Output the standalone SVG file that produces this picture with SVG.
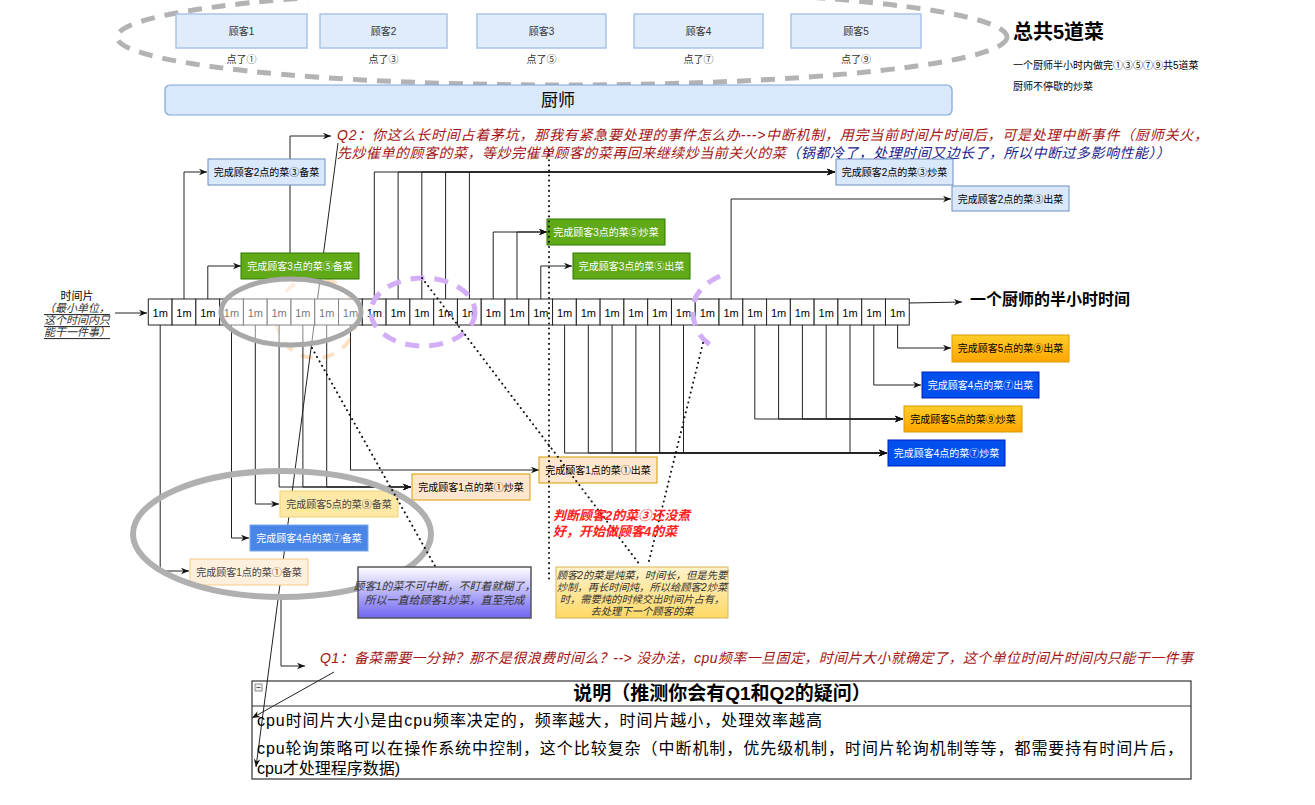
<svg xmlns="http://www.w3.org/2000/svg" width="1315" height="805" viewBox="0 0 1315 805">
<defs>
<style>
text{font-family:"Liberation Sans","Noto Sans CJK SC",sans-serif;}
.c{text-anchor:middle;dominant-baseline:central;}
.cust{fill:#e1ecfb;stroke:#a9c4eb;stroke-width:1.5;}
.ct{font-size:10px;fill:#333;}
.cell{fill:#fff;stroke:#222;stroke-width:1;}
.cellt{font-size:11px;fill:#000;}
.ln{fill:none;stroke:#222;stroke-width:1;}
.lna{fill:none;stroke:#222;stroke-width:1;marker-end:url(#arr);}
.dot{fill:none;stroke:#111;stroke-width:2;stroke-dasharray:0.1 5;stroke-linecap:round;}
.bt{font-size:10px;}
.blue{fill:#dae8fc;stroke:#6c8ebf;}
.green{fill:#60a917;stroke:#2d7600;}
.org{fill:#ffe6cc;stroke:#d79b00;}
.yel{fill:url(#gY);stroke:#d79b00;}
.dblue{fill:#0050ef;stroke:#001dbc;}
.q{font-style:italic;fill:#a31515;font-size:14px;}
</style>
<marker id="arr" viewBox="0 0 10 10" refX="10" refY="5" markerWidth="8" markerHeight="8" orient="auto" markerUnits="userSpaceOnUse"><path d="M0,1 L10,5 L0,9 L3,5 z" fill="#111"/></marker>
<linearGradient id="gY" x1="0" y1="0" x2="0" y2="1"><stop offset="0" stop-color="#ffcd28"/><stop offset="1" stop-color="#ffa500"/></linearGradient>
<linearGradient id="gP" x1="0" y1="0" x2="0" y2="1"><stop offset="0" stop-color="#ffffff"/><stop offset="1" stop-color="#6f64f2"/></linearGradient>
<linearGradient id="gN" x1="0" y1="0" x2="0" y2="1"><stop offset="0" stop-color="#fff2cc"/><stop offset="1" stop-color="#ffd966"/></linearGradient>
</defs>
<rect width="1315" height="805" fill="#fff"/>

<!-- top dashed ellipse -->
<ellipse cx="562" cy="37" rx="445" ry="48" fill="none" stroke="#b3b3b3" stroke-width="5" stroke-dasharray="14 10"/>

<g id="customer1"><rect class="cust" x="176" y="14" width="131" height="34"/><text class="c ct" x="241.5" y="31">顾客1</text><text class="c ct" x="241.5" y="59">点了①</text></g>
<g id="customer2"><rect class="cust" x="320" y="14" width="127" height="34"/><text class="c ct" x="383.5" y="31">顾客2</text><text class="c ct" x="383.5" y="59">点了③</text></g>
<g id="customer3"><rect class="cust" x="477" y="14" width="129" height="34"/><text class="c ct" x="541.5" y="31">顾客3</text><text class="c ct" x="541.5" y="59">点了⑤</text></g>
<g id="customer4"><rect class="cust" x="634" y="14" width="129" height="34"/><text class="c ct" x="698.5" y="31">顾客4</text><text class="c ct" x="698.5" y="59">点了⑦</text></g>
<g id="customer5"><rect class="cust" x="791" y="14" width="130" height="34"/><text class="c ct" x="856" y="31">顾客5</text><text class="c ct" x="856" y="59">点了⑨</text></g>

<g id="summary">
<text x="1013" y="39" font-size="20" font-weight="bold" fill="#000">总共5道菜</text>
<text x="1013" y="69" font-size="10" fill="#000">一个厨师半小时内做完①③⑤⑦⑨共5道菜</text>
<text x="1013" y="90" font-size="10" fill="#000">厨师不停歇的炒菜</text>
</g>

<g id="chef"><rect x="165" y="85" width="787" height="30" rx="5" fill="#dae8fc" stroke="#7ea6d8" stroke-width="1.2"/><text class="c" x="558" y="100" font-size="17" fill="#000">厨师</text></g>

<g id="q2">
<text class="q" x="337" y="140" textLength="871" lengthAdjust="spacing">Q2：你这么长时间占着茅坑，那我有紧急要处理的事件怎么办---&gt;中断机制，用完当前时间片时间后，可是处理中断事件（厨师关火，</text>
<text class="q" x="337" y="158" textLength="833" lengthAdjust="spacing">先炒催单的顾客的菜，等炒完催单顾客的菜再回来继续炒当前关火的菜<tspan fill="#1c1c8c">（锅都冷了，处理时间又边长了，所以中断过多影响性能））</tspan></text>
</g>

<g id="timeslice-label">
<text class="c" x="77" y="296" font-size="11" fill="#000">时间片</text>
<g font-size="11" font-style="italic" fill="#333" text-decoration="underline">
<text class="c" x="77" y="308">（最小单位，</text>
<text class="c" x="77" y="320">这个时间内只</text>
<text class="c" x="77" y="332">能干一件事）</text>
</g>
</g>

<!-- faint orange dashed circle -->
<ellipse cx="316" cy="318" rx="40" ry="40" fill="none" stroke="#ffe0c2" stroke-width="4" stroke-dasharray="12 10"/>

<g id="connectors">
<path class="lna" d="M184,299 V172 H207"/>
<path class="lna" d="M207.8,299 V266 H241"/>
<path class="lna" d="M374.3,299 V172 H835"/>
<path class="lna" d="M398.1,299 V172 H835"/>
<path class="lna" d="M421.8,299 V172 H835"/>
<path class="lna" d="M445.6,299 V172 H835"/>
<path class="lna" d="M469.4,299 V172 H835"/>
<path class="lna" d="M493.2,299 V232 H547"/>
<path class="lna" d="M517,299 V232 H547"/>
<path class="lna" d="M540.8,299 V266 H572"/>
<path class="lna" d="M731.1,299 V199 H951"/>
<path class="lna" d="M160.2,325 V571 H189"/>
<path class="lna" d="M231.5,325 V538 H249"/>
<path class="lna" d="M255.3,325 V504 H279"/>
<path class="lna" d="M279.1,325 V487 H411"/>
<path class="lna" d="M302.9,325 V487 H411"/>
<path class="lna" d="M326.7,325 V487 H411"/>
<path class="lna" d="M350.5,325 V470 H539"/>
<path class="lna" d="M564.6,325 V453 H887"/>
<path class="lna" d="M588.3,325 V453 H887"/>
<path class="lna" d="M612.1,325 V453 H887"/>
<path class="lna" d="M635.9,325 V453 H887"/>
<path class="lna" d="M659.7,325 V453 H887"/>
<path class="lna" d="M683.5,325 V453 H887"/>
<path class="lna" d="M850,325 V453 H887"/>
<path class="lna" d="M754.8,325 V419 H903"/>
<path class="lna" d="M778.6,325 V419 H903"/>
<path class="lna" d="M802.4,325 V419 H903"/>
<path class="lna" d="M826.2,325 V419 H903"/>
<path class="lna" d="M873.8,325 V385 H921"/>
<path class="lna" d="M897.6,325 V348 H951"/>
<path class="lna" d="M115,313 H147"/>
<path class="lna" d="M909,303 L962,302"/>
<path class="lna" d="M290,278 V136 H331"/>
<path class="lna" d="M281,598 V666 H305"/>
<path class="lna" d="M338,143 L256,767"/>
<path class="lna" d="M334,672 L252,718"/>
</g>

<g id="timeline">
<rect class="cell" x="148.3" y="299" width="23.78" height="26"/><rect class="cell" x="172.08" y="299" width="23.78" height="26"/><rect class="cell" x="195.86" y="299" width="23.78" height="26"/><rect class="cell" x="219.64" y="299" width="23.78" height="26"/><rect class="cell" x="243.42" y="299" width="23.78" height="26"/><rect class="cell" x="267.2" y="299" width="23.78" height="26"/><rect class="cell" x="290.98" y="299" width="23.78" height="26"/><rect class="cell" x="314.76" y="299" width="23.78" height="26"/><rect class="cell" x="338.54" y="299" width="23.78" height="26"/><rect class="cell" x="362.32" y="299" width="23.78" height="26"/><rect class="cell" x="386.1" y="299" width="23.78" height="26"/><rect class="cell" x="409.88" y="299" width="23.78" height="26"/><rect class="cell" x="433.66" y="299" width="23.78" height="26"/><rect class="cell" x="457.44" y="299" width="23.78" height="26"/><rect class="cell" x="481.22" y="299" width="23.78" height="26"/><rect class="cell" x="505" y="299" width="23.78" height="26"/><rect class="cell" x="528.78" y="299" width="23.78" height="26"/><rect class="cell" x="552.56" y="299" width="23.78" height="26"/><rect class="cell" x="576.34" y="299" width="23.78" height="26"/><rect class="cell" x="600.12" y="299" width="23.78" height="26"/><rect class="cell" x="623.9" y="299" width="23.78" height="26"/><rect class="cell" x="647.68" y="299" width="23.78" height="26"/><rect class="cell" x="671.46" y="299" width="23.78" height="26"/><rect class="cell" x="695.24" y="299" width="23.78" height="26"/><rect class="cell" x="719.02" y="299" width="23.78" height="26"/><rect class="cell" x="742.8" y="299" width="23.78" height="26"/><rect class="cell" x="766.58" y="299" width="23.78" height="26"/><rect class="cell" x="790.36" y="299" width="23.78" height="26"/><rect class="cell" x="814.14" y="299" width="23.78" height="26"/><rect class="cell" x="837.92" y="299" width="23.78" height="26"/><rect class="cell" x="861.7" y="299" width="23.78" height="26"/><rect class="cell" x="885.48" y="299" width="23.78" height="26"/>
<g class="cellt">
<text class="c" x="160.2" y="313">1m</text><text class="c" x="184" y="313">1m</text><text class="c" x="207.8" y="313">1m</text><text class="c" x="231.5" y="313">1m</text><text class="c" x="255.3" y="313">1m</text><text class="c" x="279.1" y="313">1m</text><text class="c" x="302.9" y="313">1m</text><text class="c" x="326.7" y="313">1m</text><text class="c" x="350.5" y="313">1m</text><text class="c" x="374.3" y="313">1m</text><text class="c" x="398.1" y="313">1m</text><text class="c" x="421.8" y="313">1m</text><text class="c" x="445.6" y="313">1m</text><text class="c" x="469.4" y="313">1m</text><text class="c" x="493.2" y="313">1m</text><text class="c" x="517" y="313">1m</text><text class="c" x="540.8" y="313">1m</text><text class="c" x="564.6" y="313">1m</text><text class="c" x="588.3" y="313">1m</text><text class="c" x="612.1" y="313">1m</text><text class="c" x="635.9" y="313">1m</text><text class="c" x="659.7" y="313">1m</text><text class="c" x="683.5" y="313">1m</text><text class="c" x="707.3" y="313">1m</text><text class="c" x="731.1" y="313">1m</text><text class="c" x="754.8" y="313">1m</text><text class="c" x="778.6" y="313">1m</text><text class="c" x="802.4" y="313">1m</text><text class="c" x="826.2" y="313">1m</text><text class="c" x="850" y="313">1m</text><text class="c" x="873.8" y="313">1m</text><text class="c" x="897.6" y="313">1m</text>
</g>
<text x="970" y="305" font-size="16" font-weight="bold" fill="#000">一个厨师的半小时时间</text>
</g>

<g id="t-c2-prep"><rect class="blue" x="208" y="159" width="117" height="26"/><text class="c bt" x="266.5" y="172" fill="#000">完成顾客2点的菜③备菜</text></g>
<g id="t-c3-prep"><rect class="green" x="241" y="253" width="118" height="26"/><text class="c bt" x="300" y="266" fill="#fff">完成顾客3点的菜⑤备菜</text></g>
<g id="t-c3-fry"><rect class="green" x="547" y="219" width="118" height="26"/><text class="c bt" x="606" y="232" fill="#fff">完成顾客3点的菜⑤炒菜</text></g>
<g id="t-c3-serve"><rect class="green" x="573" y="253" width="117" height="26"/><text class="c bt" x="631.5" y="266" fill="#fff">完成顾客3点的菜⑤出菜</text></g>
<g id="t-c2-fry"><rect class="blue" x="836" y="159" width="117" height="26"/><text class="c bt" x="894.5" y="172" fill="#000">完成顾客2点的菜③炒菜</text></g>
<g id="t-c2-serve"><rect class="blue" x="952" y="186" width="117" height="25"/><text class="c bt" x="1010.5" y="199" fill="#000">完成顾客2点的菜③出菜</text></g>

<g id="t-c1-prep"><rect x="190" y="559" width="118" height="26" fill="#fff0de" stroke="#f0cc8c"/><text class="c bt" x="249" y="572" fill="#444">完成顾客1点的菜①备菜</text></g>
<g id="t-c4-prep"><rect x="250" y="525" width="118" height="26" fill="#4a86e8" stroke="#7aa6f0"/><text class="c bt" x="309" y="538" fill="#fff">完成顾客4点的菜⑦备菜</text></g>
<g id="t-c5-prep"><rect x="280" y="491" width="118" height="26" fill="#fde8a6" stroke="#f0d27a"/><text class="c bt" x="339" y="504" fill="#444">完成顾客5点的菜⑨备菜</text></g>
<g id="t-c1-fry"><rect class="org" x="412" y="474" width="118" height="26"/><text class="c bt" x="471" y="487" fill="#000">完成顾客1点的菜①炒菜</text></g>
<g id="t-c1-serve"><rect class="org" x="539" y="457" width="118" height="26"/><text class="c bt" x="598" y="470" fill="#000">完成顾客1点的菜①出菜</text></g>
<g id="t-c5-serve"><rect class="yel" x="952" y="335" width="117" height="27"/><text class="c bt" x="1010.5" y="348" fill="#000">完成顾客5点的菜⑨出菜</text></g>
<g id="t-c4-serve"><rect class="dblue" x="922" y="372" width="117" height="26"/><text class="c bt" x="980.5" y="385" fill="#fff">完成顾客4点的菜⑦出菜</text></g>
<g id="t-c5-fry"><rect class="yel" x="904" y="406" width="118" height="26"/><text class="c bt" x="963" y="419" fill="#000">完成顾客5点的菜⑨炒菜</text></g>
<g id="t-c4-fry"><rect class="dblue" x="888" y="440" width="117" height="26"/><text class="c bt" x="946.5" y="453" fill="#fff">完成顾客4点的菜⑦炒菜</text></g>

<ellipse cx="291" cy="312" rx="70" ry="33" fill="#fff" fill-opacity="0.45" stroke="#a8a8a8" stroke-width="5"/>
<ellipse cx="423" cy="312" rx="52" ry="34" fill="none" stroke="#d3aef7" stroke-width="5" stroke-dasharray="14 10"/>
<path d="M720,276 Q690,290 693,315 Q696,338 714,347" fill="none" stroke="#d3aef7" stroke-width="5" stroke-dasharray="14 10"/>
<ellipse cx="282" cy="534" rx="149" ry="63" fill="none" stroke="#b0b0b0" stroke-width="6"/>

<g id="dotted">
<path class="dot" d="M312,348 L435,566"/>
<path class="dot" d="M422,278 L640,565"/>
<path class="dot" d="M703,343 L648,565"/>
<path class="dot" d="M549,150 V583"/>
</g>

<g id="note-judge">
<text x="553" y="520" font-size="13" font-weight="bold" font-style="italic" fill="#ff2222">判断顾客2的菜③还没煮</text>
<text x="553" y="536" font-size="13" font-weight="bold" font-style="italic" fill="#ff2222">好，开始做顾客4的菜</text>
</g>

<g id="note-c1"><rect x="358" y="567" width="173" height="51" fill="url(#gP)" stroke="#555" stroke-width="1.5"/>
<text class="c" x="444.5" y="586" font-size="11" font-style="italic" fill="#333">顾客1的菜不可中断，不盯着就糊了，</text>
<text class="c" x="444.5" y="600" font-size="11" font-style="italic" fill="#333">所以一直给顾客1炒菜，直至完成</text></g>

<g id="note-c2"><rect x="556" y="567" width="172" height="51" fill="url(#gN)" stroke="#d6b656"/>
<g font-size="10.3" font-style="italic" fill="#333">
<text class="c" x="642" y="575">顾客2的菜是炖菜，时间长，但是先要</text>
<text class="c" x="642" y="587">炒制，再长时间炖，所以给顾客2炒菜</text>
<text class="c" x="642" y="599">时，需要炖的时候交出时间片占有，</text>
<text class="c" x="642" y="611">去处理下一个顾客的菜</text>
</g></g>

<g id="q1"><text class="q" x="320" y="663" textLength="873" lengthAdjust="spacing">Q1：备菜需要一分钟？那不是很浪费时间么？--&gt; 没办法，cpu频率一旦固定，时间片大小就确定了，这个单位时间片时间内只能干一件事</text></g>

<g id="explain">
<rect x="252" y="681" width="939" height="98" fill="none" stroke="#333" stroke-width="1.2"/>
<line x1="252" y1="706" x2="1191" y2="706" stroke="#333" stroke-width="1.2"/>
<rect x="255" y="684" width="7" height="7" fill="#eee" stroke="#777" stroke-width="0.8"/>
<line x1="256.5" y1="687.5" x2="260.5" y2="687.5" stroke="#333" stroke-width="0.8"/>
<text class="c" x="722" y="693.5" font-size="19" font-weight="bold" fill="#000">说明（推测你会有Q1和Q2的疑问）</text>
<text x="257" y="726" font-size="16" fill="#000" textLength="565" lengthAdjust="spacing">cpu时间片大小是由cpu频率决定的，频率越大，时间片越小，处理效率越高</text>
<text x="257" y="754" font-size="16" fill="#000" textLength="926" lengthAdjust="spacing">cpu轮询策略可以在操作系统中控制，这个比较复杂（中断机制，优先级机制，时间片轮询机制等等，都需要持有时间片后，</text>
<text x="257" y="774" font-size="16" fill="#000">cpu才处理程序数据)</text>
</g>
</svg>
